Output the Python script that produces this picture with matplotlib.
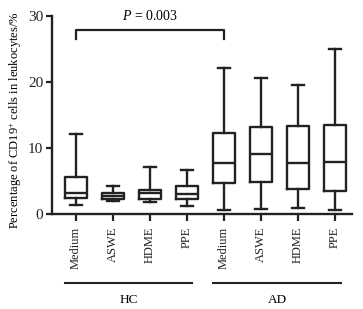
import matplotlib
matplotlib.use("Agg")
import matplotlib.pyplot as plt
import matplotlib.transforms as mtransforms

plt.rcParams['font.family'] = ['Liberation Serif', 'DejaVu Serif']
plt.rcParams['mathtext.fontset'] = 'custom'
plt.rcParams['mathtext.rm'] = 'Liberation Serif'
plt.rcParams['mathtext.it'] = 'Liberation Serif:italic'
plt.rcParams['mathtext.bf'] = 'Liberation Serif:bold'

categories = ["Medium", "ASWE", "HDME", "PPE", "Medium", "ASWE", "HDME", "PPE"]
groups = ["HC", "AD"]
whislo = [1.4, 2.0, 1.9, 1.3, 0.6, 0.8, 0.9, 0.7]
q1 = [2.5, 2.3, 2.3, 2.3, 4.7, 4.9, 3.9, 3.5]
med = [3.2, 2.8, 3.2, 3.0, 7.8, 9.1, 7.7, 7.9]
q3 = [5.7, 3.2, 3.6, 4.3, 12.3, 13.2, 13.4, 13.5]
whishi = [12.1, 4.3, 7.1, 6.7, 22.1, 20.6, 19.6, 25.0]
yticks = [0, 10, 20, 30]
p_text = "$P$ = 0.003"

fig = plt.figure(figsize=(3.63, 3.09), dpi=100)
ax = fig.add_axes([0.1424, 0.3065, 0.8276, 0.6418])

stats = [dict(whislo=a, q1=b, med=c, q3=d, whishi=e, fliers=[])
         for a, b, c, d, e in zip(whislo, q1, med, q3, whishi)]
pos = list(range(1, len(categories) + 1))
lw = 1.7
ax.bxp(stats, positions=pos, widths=0.59, capwidths=0.32,
       boxprops=dict(color='#222222', linewidth=lw),
       whiskerprops=dict(color='#222222', linewidth=lw),
       capprops=dict(color='#222222', linewidth=lw),
       medianprops=dict(color='#222222', linewidth=lw),
       showfliers=False)

ax.set_xlim(0.35, 8.47)
ax.set_ylim(0, 30)
ax.set_yticks(yticks)
ax.set_xticks(pos)
ax.set_xticklabels(categories, rotation=90, fontsize=9)
ax.tick_params(axis='y', labelsize=11, width=1.6, length=4, colors='#222222', pad=2)
ax.tick_params(axis='x', width=1.6, length=5, colors='#222222', pad=4)
for s in ['top', 'right']:
    ax.spines[s].set_visible(False)
for s in ['left', 'bottom']:
    ax.spines[s].set_linewidth(1.7)
    ax.spines[s].set_color('#222222')

ax.set_ylabel("Percentage of CD19$^{+}$ cells in leukocytes/%", fontsize=9.0)
ax.yaxis.set_label_coords(-0.093, 0.475)

# significance bracket
ax.plot([1, 1, 5, 5], [26.5, 27.9, 27.9, 26.5], color='#222222', lw=1.6, clip_on=False)
ax.text(3.0, 30.0, p_text, ha='center', va='center', fontsize=10)

# group lines
trans = mtransforms.blended_transform_factory(ax.transData, ax.transAxes)
for (x0, x1), g in zip([(0.71, 4.14), (4.71, 8.17)], groups):
    ax.plot([x0, x1], [-0.346, -0.346], color='#222222', lw=1.5, transform=trans, clip_on=False)
    ax.text((x0 + x1) / 2, -0.43, g, transform=trans, ha='center', va='center', fontsize=9.5)

fig.savefig("out.png", dpi=100)
